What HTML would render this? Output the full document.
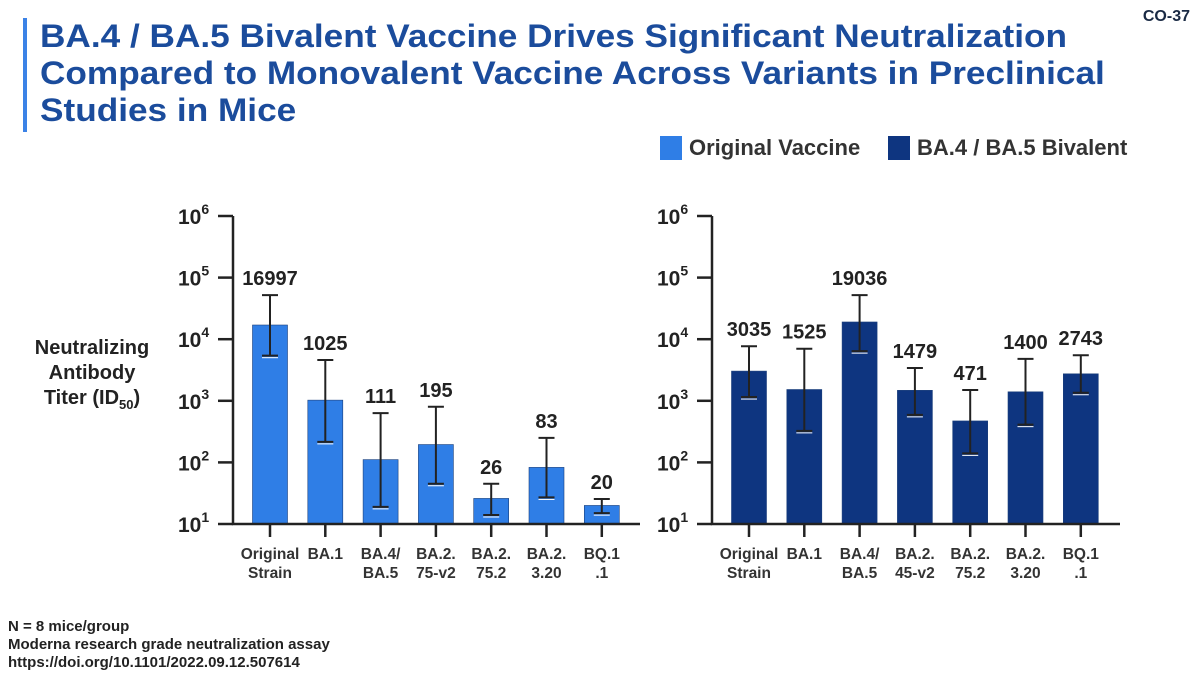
<!DOCTYPE html>
<html><head><meta charset="utf-8"><style>
body{margin:0;width:1200px;height:678px;background:#fff;font-family:"Liberation Sans",Arial,sans-serif;position:relative;overflow:hidden}
.t{position:absolute;font-weight:bold}
</style></head><body>
<div style="position:absolute;left:23px;top:18px;width:4px;height:114px;background:#3b82e6"></div>
<div class="t" style="left:40px;top:18px;font-size:32px;line-height:37px;color:#1b4c9c;white-space:nowrap;transform:scaleX(1.1);transform-origin:0 0">BA.4 / BA.5 Bivalent Vaccine Drives Significant Neutralization<br>Compared to Monovalent Vaccine Across Variants in Preclinical<br>Studies in Mice</div>
<div class="t" style="right:10px;top:8px;font-size:16px;color:#1a2a44">CO-37</div>
<div style="position:absolute;left:660px;top:136px;width:22px;height:24px;background:#2f7ee6"></div>
<div class="t" style="left:689px;top:135px;font-size:22px;color:#333">Original Vaccine</div>
<div style="position:absolute;left:888px;top:136px;width:22px;height:24px;background:#0e3580"></div>
<div class="t" style="left:917px;top:135px;font-size:22px;color:#333">BA.4 / BA.5 Bivalent</div>
<div class="t" style="left:17px;top:336px;width:150px;text-align:center;font-size:20px;line-height:25px;color:#222">Neutralizing<br>Antibody<br>Titer (ID<sub style="font-size:13px">50</sub>)</div>
<div class="t" style="left:8px;top:618px;font-size:15px;line-height:18px;color:#222">N = 8 mice/group<br>Moderna research grade neutralization assay<br>https://doi.org/10.1101/2022.09.12.507614</div>
<svg id="svg" width="1200" height="678" style="position:absolute;left:0;top:0"></svg>
<script>
const categoriesL = ["Original|Strain","BA.1","BA.4/|BA.5","BA.2.|75-v2","BA.2.|75.2","BA.2.|3.20","BQ.1|.1"];
const categoriesR = ["Original|Strain","BA.1","BA.4/|BA.5","BA.2.|45-v2","BA.2.|75.2","BA.2.|3.20","BQ.1|.1"];
const valuesL = [16997,1025,111,195,26,83,20];
const errHiL = [52000,4600,630,800,45,250,25.5];
const errLoL = [5400,215,19,45,14,27,15];
const valuesR = [3035,1525,19036,1479,471,1400,2743];
const errHiR = [7700,7000,52000,3400,1500,4800,5500];
const errLoR = [1150,325,6400,590,140,410,1350];
const yTicks = [1,2,3,4,5,6];
const NS="http://www.w3.org/2000/svg";
const svg=document.getElementById('svg');
function mk(tag,attrs,parent){const e=document.createElementNS(NS,tag);for(const k in attrs)e.setAttribute(k,attrs[k]);(parent||svg).appendChild(e);return e;}
const yTop=216,yBot=524,dec=(yBot-yTop)/5;
function y(v){return yBot-(Math.log10(v)-1)*dec;}
function chart(ax,xEnd,cats,vals,hi,lo,color,prefix){
  const g=mk('g',{});
  
  
  const x0=ax+37,step=55.3,bw=35;
  const x=i=>x0+i*step;
  vals.forEach((v,i)=>{
    const r=mk('rect',{x:x(i)-bw/2,y:y(v),width:bw,height:yBot-y(v),fill:color,stroke:'#1b3f7a','stroke-width':0.6},g);
    
    
    const e=mk('path',{d:`M${x(i)},${y(hi[i])}V${y(lo[i])}M${x(i)-8},${y(hi[i])}H${x(i)+8}M${x(i)-8},${y(lo[i])}H${x(i)+8}`,stroke:'#222','stroke-width':2,fill:'none'},g);
    
    
    mk('path',{d:`M${x(i)-8},${y(lo[i])+2}H${x(i)+8}`,stroke:'#fff','stroke-width':1},g);
    const t=mk('text',{x:x(i),y:y(hi[i])-10,'text-anchor':'middle','font-size':20,'font-weight':'bold',fill:'#222'},g);
    t.textContent=vals[i];
    
    
    mk('line',{x1:x(i),x2:x(i),y1:yBot,y2:yBot+13,stroke:'#222','stroke-width':2.5},g);
    const parts=cats[i].split('|');
    parts.forEach((p,j)=>{
      const c=mk('text',{x:x(i),y:559+j*19,'text-anchor':'middle','font-size':15.5,'font-weight':'bold',fill:'#333'},g);
      c.textContent=p;
      
      
    });
  });
  const axl=mk('path',{d:`M${ax},${yTop}V${yBot}H${xEnd}`,stroke:'#222','stroke-width':2.5,fill:'none'},g);
  
  
  yTicks.forEach(p=>{
    const yy=yBot-(p-1)*dec;
    mk('line',{x1:ax-15,x2:ax,y1:yy,y2:yy,stroke:'#222','stroke-width':2.5},g);
    const t=mk('text',{x:ax-55,y:yy+8,'font-size':21,'font-weight':'bold',fill:'#222'},g);
    t.textContent='10';
    const s=mk('tspan',{dy:-10,'font-size':14},t);
    s.textContent=p;
    
    
  });
}
chart(233,640,categoriesL,valuesL,errHiL,errLoL,'#2f7ee6','original');
chart(712,1120,categoriesR,valuesR,errHiR,errLoR,'#0e3580','bivalent');
</script>
</body></html>
